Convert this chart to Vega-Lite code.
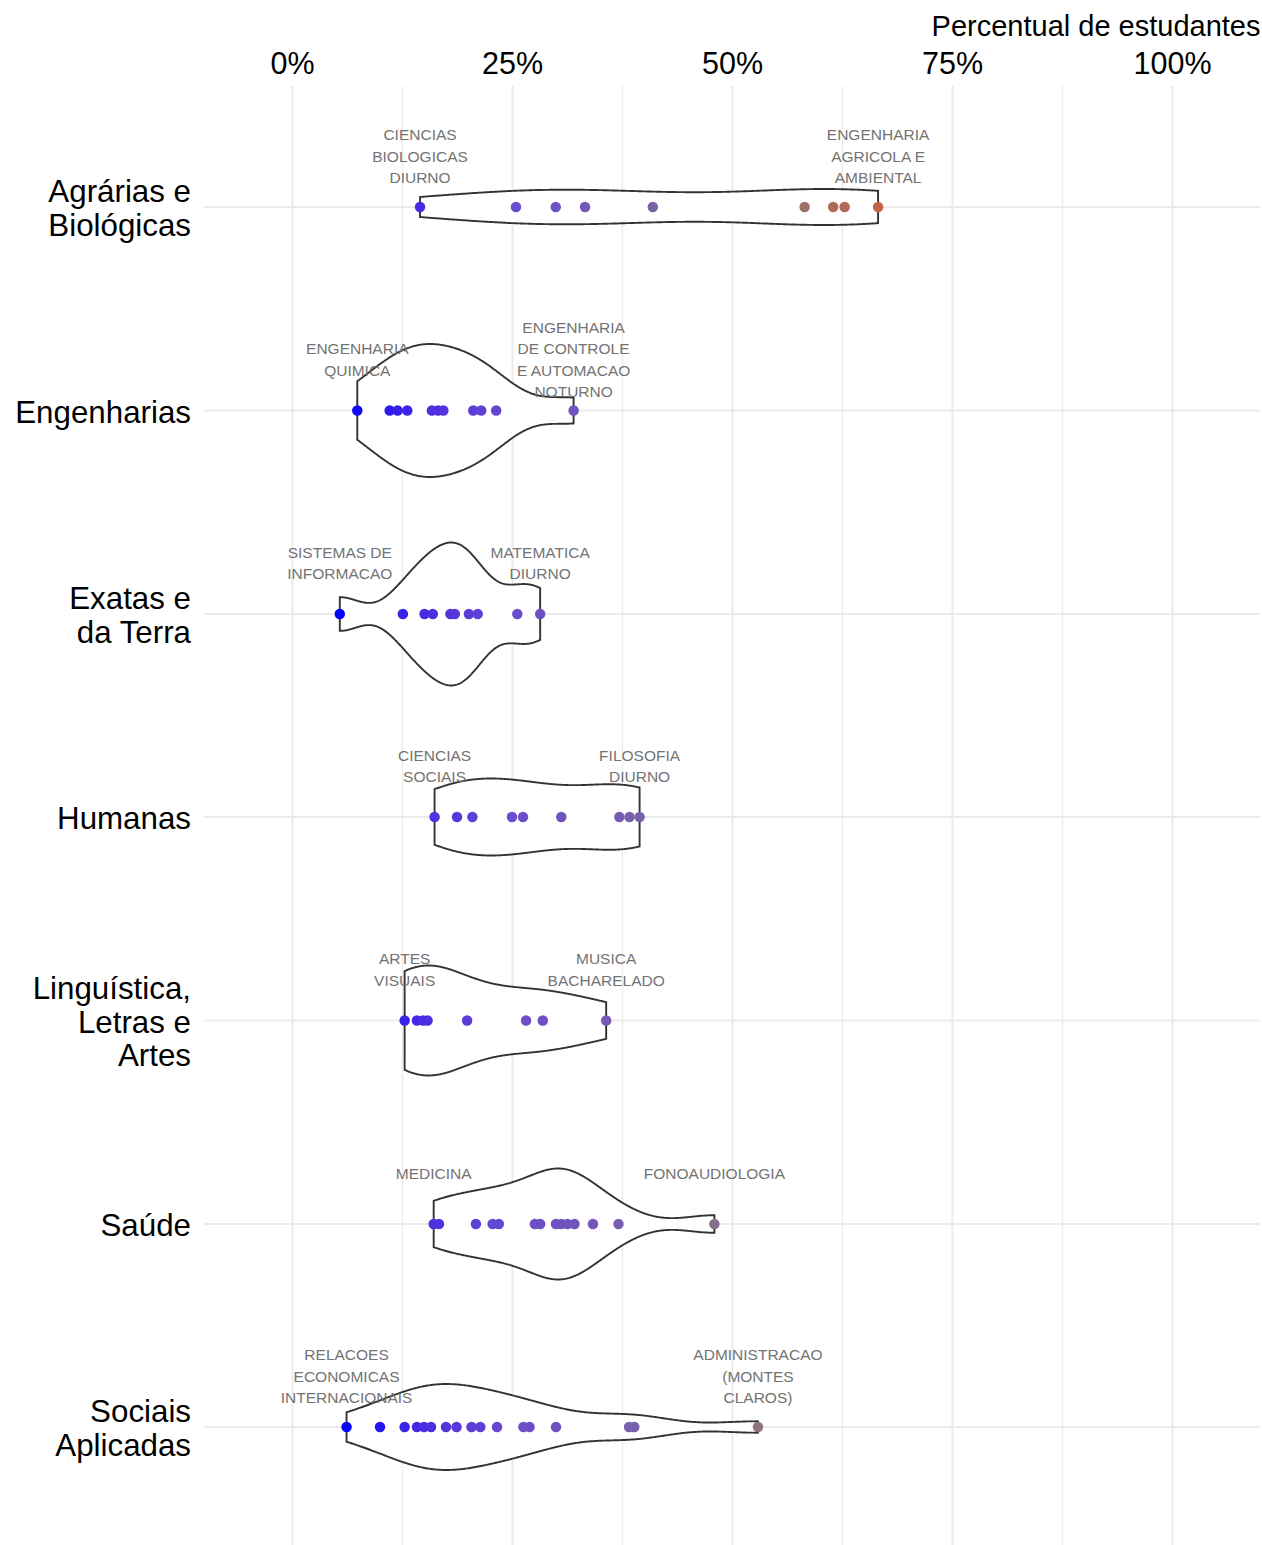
{
  "$schema": "https://vega.github.io/schema/vega-lite/v6.json",
  "background": "white",
  "padding": {"left": 15, "right": 0, "top": 12.5, "bottom": 0},
  "config": {"view": {"stroke": null}, "font": "Liberation Sans", "concat": {"spacing": 0}},
  "data": {"values": [
    {"area": "Agrárias e Biológicas", "pct": 14.55, "label": ["CIENCIAS", "BIOLOGICAS", "DIURNO"]},
    {"area": "Agrárias e Biológicas", "pct": 25.45},
    {"area": "Agrárias e Biológicas", "pct": 29.97},
    {"area": "Agrárias e Biológicas", "pct": 33.3},
    {"area": "Agrárias e Biológicas", "pct": 41.0},
    {"area": "Agrárias e Biológicas", "pct": 58.25},
    {"area": "Agrárias e Biológicas", "pct": 61.5},
    {"area": "Agrárias e Biológicas", "pct": 62.8},
    {"area": "Agrárias e Biológicas", "pct": 66.6, "label": ["ENGENHARIA", "AGRICOLA E", "AMBIENTAL"]},
    {"area": "Engenharias", "pct": 7.42, "label": ["ENGENHARIA", "QUIMICA"]},
    {"area": "Engenharias", "pct": 11.1},
    {"area": "Engenharias", "pct": 12.0},
    {"area": "Engenharias", "pct": 13.1},
    {"area": "Engenharias", "pct": 15.9},
    {"area": "Engenharias", "pct": 16.6},
    {"area": "Engenharias", "pct": 17.2},
    {"area": "Engenharias", "pct": 20.6},
    {"area": "Engenharias", "pct": 21.5},
    {"area": "Engenharias", "pct": 23.2},
    {"area": "Engenharias", "pct": 32.0, "label": ["ENGENHARIA", "DE CONTROLE", "E AUTOMACAO", "NOTURNO"]},
    {"area": "Exatas e da Terra", "pct": 5.43, "label": ["SISTEMAS DE", "INFORMACAO"]},
    {"area": "Exatas e da Terra", "pct": 12.6},
    {"area": "Exatas e da Terra", "pct": 15.06},
    {"area": "Exatas e da Terra", "pct": 16.0},
    {"area": "Exatas e da Terra", "pct": 18.0},
    {"area": "Exatas e da Terra", "pct": 18.5},
    {"area": "Exatas e da Terra", "pct": 20.1},
    {"area": "Exatas e da Terra", "pct": 21.1},
    {"area": "Exatas e da Terra", "pct": 25.6},
    {"area": "Exatas e da Terra", "pct": 28.2, "label": ["MATEMATICA", "DIURNO"]},
    {"area": "Humanas", "pct": 16.2, "label": ["CIENCIAS", "SOCIAIS"]},
    {"area": "Humanas", "pct": 18.75},
    {"area": "Humanas", "pct": 20.5},
    {"area": "Humanas", "pct": 25.0},
    {"area": "Humanas", "pct": 26.25},
    {"area": "Humanas", "pct": 30.6},
    {"area": "Humanas", "pct": 37.2},
    {"area": "Humanas", "pct": 38.35},
    {"area": "Humanas", "pct": 39.5, "label": ["FILOSOFIA", "DIURNO"]},
    {"area": "Linguística, Letras e Artes", "pct": 12.8, "label": ["ARTES", "VISUAIS"]},
    {"area": "Linguística, Letras e Artes", "pct": 14.2},
    {"area": "Linguística, Letras e Artes", "pct": 14.9},
    {"area": "Linguística, Letras e Artes", "pct": 15.4},
    {"area": "Linguística, Letras e Artes", "pct": 19.9},
    {"area": "Linguística, Letras e Artes", "pct": 26.6},
    {"area": "Linguística, Letras e Artes", "pct": 28.5},
    {"area": "Linguística, Letras e Artes", "pct": 35.7, "label": ["MUSICA", "BACHARELADO"]},
    {"area": "Saúde", "pct": 16.1, "label": ["MEDICINA"]},
    {"area": "Saúde", "pct": 16.7},
    {"area": "Saúde", "pct": 20.9},
    {"area": "Saúde", "pct": 22.8},
    {"area": "Saúde", "pct": 23.5},
    {"area": "Saúde", "pct": 27.6},
    {"area": "Saúde", "pct": 28.2},
    {"area": "Saúde", "pct": 30.0},
    {"area": "Saúde", "pct": 30.6},
    {"area": "Saúde", "pct": 31.3},
    {"area": "Saúde", "pct": 32.1},
    {"area": "Saúde", "pct": 34.2},
    {"area": "Saúde", "pct": 37.1},
    {"area": "Saúde", "pct": 48.0, "label": ["FONOAUDIOLOGIA"]},
    {"area": "Sociais Aplicadas", "pct": 6.2, "label": ["RELACOES", "ECONOMICAS", "INTERNACIONAIS"]},
    {"area": "Sociais Aplicadas", "pct": 10.0},
    {"area": "Sociais Aplicadas", "pct": 12.8},
    {"area": "Sociais Aplicadas", "pct": 14.2},
    {"area": "Sociais Aplicadas", "pct": 15.0},
    {"area": "Sociais Aplicadas", "pct": 15.8},
    {"area": "Sociais Aplicadas", "pct": 17.5},
    {"area": "Sociais Aplicadas", "pct": 18.7},
    {"area": "Sociais Aplicadas", "pct": 20.4},
    {"area": "Sociais Aplicadas", "pct": 21.4},
    {"area": "Sociais Aplicadas", "pct": 23.3},
    {"area": "Sociais Aplicadas", "pct": 26.3},
    {"area": "Sociais Aplicadas", "pct": 27.0},
    {"area": "Sociais Aplicadas", "pct": 30.0},
    {"area": "Sociais Aplicadas", "pct": 38.3},
    {"area": "Sociais Aplicadas", "pct": 38.9},
    {"area": "Sociais Aplicadas", "pct": 52.95, "label": ["ADMINISTRACAO", "(MONTES", "CLAROS)"]}
  ]},
  "vconcat": [
    {
      "transform": [{"filter": "datum.area == 'Agrárias e Biológicas'"}],
      "width": 1056, "height": 203,
      "layer": [
        {"transform": [{"aggregate": [{"op": "count", "as": "n"}]}],
         "mark": {"type": "rule", "color": "#EBEBEB", "strokeWidth": 2},
         "encoding": {
           "x": {"datum": -10, "type": "quantitative", "scale": {"domain": [-10, 110], "nice": false, "zero": false},
             "axis": {"orient": "top", "title": "Percentual de estudantes", "titleFontSize": 29, "titleFontWeight": "normal", "titleColor": "#000000", "titleFont": "Liberation Sans", "titleAnchor": "end", "titlePadding": 8,
               "values": [0, 12.5, 25, 37.5, 50, 62.5, 75, 87.5, 100], "labelExpr": "datum.value % 25 == 0 ? datum.value + '%' : ''",
               "labelFontSize": 30.5, "labelFont": "Liberation Sans", "labelColor": "#000000", "labelPadding": 6, "labelFlush": false, "labelOverlap": false,
               "ticks": true, "tickSize": 20, "tickColor": "#EBEBEB", "tickWidth": {"condition": {"test": "datum.value % 25 == 0", "value": 2}, "value": 1.3},
               "domain": false, "grid": true, "gridColor": "#EBEBEB", "gridWidth": {"condition": {"test": "datum.value % 25 == 0", "value": 2}, "value": 1.3}}},
           "x2": {"datum": 110}}},
        {"transform": [{"density": "pct", "bandwidth": 11.05, "steps": 300}, {"stack": "density", "groupby": ["value"], "offset": "center", "as": ["v0", "v1"]}],
         "mark": {"type": "area", "orient": "vertical", "fill": "white", "stroke": "#333333", "strokeWidth": 1.9},
         "encoding": {"x": {"field": "value", "type": "quantitative"}, "y": {"field": "v0", "type": "quantitative", "scale": {"zero": false, "nice": false, "padding": 83.5}, "axis": null}, "y2": {"field": "v1"}}},
        {"mark": {"type": "circle", "size": 110, "opacity": 1},
         "encoding": {"x": {"field": "pct", "type": "quantitative"}, "color": {"field": "pct", "type": "quantitative", "legend": null, "scale": {"domain": [5.4, 15, 25, 35, 45, 55, 66.6], "range": ["#0000ff", "#4c2ce2", "#6a4ccc", "#7558b6", "#7d6e98", "#917670", "#c4614a"], "interpolate": "rgb"}}}},
        {"transform": [{"filter": "isValid(datum.label)"}],
         "mark": {"type": "text", "dy": -72, "fontSize": 15.5, "font": "Liberation Sans", "color": "#737373", "lineHeight": 21.5, "align": "center", "baseline": "middle"},
         "encoding": {"x": {"field": "pct", "type": "quantitative"}, "text": {"field": "label", "type": "nominal"}}},
        {"transform": [{"aggregate": [{"op": "count", "as": "n"}]}],
         "mark": {"type": "text", "text": ["Agrárias e", "Biológicas"], "dx": -13, "dy": -14, "fontSize": 31.3, "font": "Liberation Sans", "color": "#000000", "lineHeight": 33.5, "align": "right", "baseline": "middle"},
         "encoding": {"x": {"datum": -10, "type": "quantitative"}}}
      ]
    },
    {
      "transform": [{"filter": "datum.area == 'Engenharias'"}],
      "width": 1056, "height": 204,
      "layer": [
        {"transform": [{"aggregate": [{"op": "count", "as": "n"}]}],
         "mark": {"type": "rule", "color": "#EBEBEB", "strokeWidth": 2},
         "encoding": {
           "x": {"datum": -10, "type": "quantitative", "scale": {"domain": [-10, 110], "nice": false, "zero": false},
             "axis": {"orient": "top", "title": null, "labels": false, "ticks": false, "domain": false, "values": [0, 12.5, 25, 37.5, 50, 62.5, 75, 87.5, 100],
               "grid": true, "gridColor": "#EBEBEB", "gridWidth": {"condition": {"test": "datum.value % 25 == 0", "value": 2}, "value": 1.3}}},
           "x2": {"datum": 110}}},
        {"transform": [{"density": "pct", "bandwidth": 3.53, "steps": 300}, {"stack": "density", "groupby": ["value"], "offset": "center", "as": ["v0", "v1"]}],
         "mark": {"type": "area", "orient": "vertical", "fill": "white", "stroke": "#333333", "strokeWidth": 1.9},
         "encoding": {"x": {"field": "value", "type": "quantitative"}, "y": {"field": "v0", "type": "quantitative", "scale": {"zero": false, "nice": false, "padding": 35.5}, "axis": null}, "y2": {"field": "v1"}}},
        {"mark": {"type": "circle", "size": 110, "opacity": 1},
         "encoding": {"x": {"field": "pct", "type": "quantitative"}, "color": {"field": "pct", "type": "quantitative", "legend": null, "scale": {"domain": [5.4, 15, 25, 35, 45, 55, 66.6], "range": ["#0000ff", "#4c2ce2", "#6a4ccc", "#7558b6", "#7d6e98", "#917670", "#c4614a"], "interpolate": "rgb"}}}},
        {"transform": [{"filter": "isValid(datum.label) && length(datum.label) == 2"}],
         "mark": {"type": "text", "dy": -61.25, "fontSize": 15.5, "font": "Liberation Sans", "color": "#737373", "lineHeight": 21.5, "align": "center", "baseline": "middle"},
         "encoding": {"x": {"field": "pct", "type": "quantitative"}, "text": {"field": "label", "type": "nominal"}}},
        {"transform": [{"filter": "isValid(datum.label) && length(datum.label) == 4"}],
         "mark": {"type": "text", "dy": -82.75, "fontSize": 15.5, "font": "Liberation Sans", "color": "#737373", "lineHeight": 21.5, "align": "center", "baseline": "middle"},
         "encoding": {"x": {"field": "pct", "type": "quantitative"}, "text": {"field": "label", "type": "nominal"}}},
        {"transform": [{"aggregate": [{"op": "count", "as": "n"}]}],
         "mark": {"type": "text", "text": ["Engenharias"], "dx": -13, "dy": 3, "fontSize": 31.3, "font": "Liberation Sans", "color": "#000000", "lineHeight": 33.5, "align": "right", "baseline": "middle"},
         "encoding": {"x": {"datum": -10, "type": "quantitative"}}}
      ]
    },
    {
      "transform": [{"filter": "datum.area == 'Exatas e da Terra'"}],
      "width": 1056, "height": 203,
      "layer": [
        {"transform": [{"aggregate": [{"op": "count", "as": "n"}]}],
         "mark": {"type": "rule", "color": "#EBEBEB", "strokeWidth": 2},
         "encoding": {
           "x": {"datum": -10, "type": "quantitative", "scale": {"domain": [-10, 110], "nice": false, "zero": false},
             "axis": {"orient": "top", "title": null, "labels": false, "ticks": false, "domain": false, "values": [0, 12.5, 25, 37.5, 50, 62.5, 75, 87.5, 100],
               "grid": true, "gridColor": "#EBEBEB", "gridWidth": {"condition": {"test": "datum.value % 25 == 0", "value": 2}, "value": 1.3}}},
           "x2": {"datum": 110}}},
        {"transform": [{"density": "pct", "bandwidth": 2.35, "steps": 300}, {"stack": "density", "groupby": ["value"], "offset": "center", "as": ["v0", "v1"]}],
         "mark": {"type": "area", "orient": "vertical", "fill": "white", "stroke": "#333333", "strokeWidth": 1.9},
         "encoding": {"x": {"field": "value", "type": "quantitative"}, "y": {"field": "v0", "type": "quantitative", "scale": {"zero": false, "nice": false, "padding": 30}, "axis": null}, "y2": {"field": "v1"}}},
        {"mark": {"type": "circle", "size": 110, "opacity": 1},
         "encoding": {"x": {"field": "pct", "type": "quantitative"}, "color": {"field": "pct", "type": "quantitative", "legend": null, "scale": {"domain": [5.4, 15, 25, 35, 45, 55, 66.6], "range": ["#0000ff", "#4c2ce2", "#6a4ccc", "#7558b6", "#7d6e98", "#917670", "#c4614a"], "interpolate": "rgb"}}}},
        {"transform": [{"filter": "isValid(datum.label)"}],
         "mark": {"type": "text", "dy": -61.25, "fontSize": 15.5, "font": "Liberation Sans", "color": "#737373", "lineHeight": 21.5, "align": "center", "baseline": "middle"},
         "encoding": {"x": {"field": "pct", "type": "quantitative"}, "text": {"field": "label", "type": "nominal"}}},
        {"transform": [{"aggregate": [{"op": "count", "as": "n"}]}],
         "mark": {"type": "text", "text": ["Exatas e", "da Terra"], "dx": -13, "dy": -14, "fontSize": 31.3, "font": "Liberation Sans", "color": "#000000", "lineHeight": 33.5, "align": "right", "baseline": "middle"},
         "encoding": {"x": {"datum": -10, "type": "quantitative"}}}
      ]
    },
    {
      "transform": [{"filter": "datum.area == 'Humanas'"}],
      "width": 1056, "height": 203,
      "layer": [
        {"transform": [{"aggregate": [{"op": "count", "as": "n"}]}],
         "mark": {"type": "rule", "color": "#EBEBEB", "strokeWidth": 2},
         "encoding": {
           "x": {"datum": -10, "type": "quantitative", "scale": {"domain": [-10, 110], "nice": false, "zero": false},
             "axis": {"orient": "top", "title": null, "labels": false, "ticks": false, "domain": false, "values": [0, 12.5, 25, 37.5, 50, 62.5, 75, 87.5, 100],
               "grid": true, "gridColor": "#EBEBEB", "gridWidth": {"condition": {"test": "datum.value % 25 == 0", "value": 2}, "value": 1.3}}},
           "x2": {"datum": 110}}},
        {"transform": [{"density": "pct", "bandwidth": 5.12, "steps": 300}, {"stack": "density", "groupby": ["value"], "offset": "center", "as": ["v0", "v1"]}],
         "mark": {"type": "area", "orient": "vertical", "fill": "white", "stroke": "#333333", "strokeWidth": 1.9},
         "encoding": {"x": {"field": "value", "type": "quantitative"}, "y": {"field": "v0", "type": "quantitative", "scale": {"zero": false, "nice": false, "padding": 63}, "axis": null}, "y2": {"field": "v1"}}},
        {"mark": {"type": "circle", "size": 110, "opacity": 1},
         "encoding": {"x": {"field": "pct", "type": "quantitative"}, "color": {"field": "pct", "type": "quantitative", "legend": null, "scale": {"domain": [5.4, 15, 25, 35, 45, 55, 66.6], "range": ["#0000ff", "#4c2ce2", "#6a4ccc", "#7558b6", "#7d6e98", "#917670", "#c4614a"], "interpolate": "rgb"}}}},
        {"transform": [{"filter": "isValid(datum.label)"}],
         "mark": {"type": "text", "dy": -61.25, "fontSize": 15.5, "font": "Liberation Sans", "color": "#737373", "lineHeight": 21.5, "align": "center", "baseline": "middle"},
         "encoding": {"x": {"field": "pct", "type": "quantitative"}, "text": {"field": "label", "type": "nominal"}}},
        {"transform": [{"aggregate": [{"op": "count", "as": "n"}]}],
         "mark": {"type": "text", "text": ["Humanas"], "dx": -13, "dy": 3, "fontSize": 31.3, "font": "Liberation Sans", "color": "#000000", "lineHeight": 33.5, "align": "right", "baseline": "middle"},
         "encoding": {"x": {"datum": -10, "type": "quantitative"}}}
      ]
    },
    {
      "transform": [{"filter": "datum.area == 'Linguística, Letras e Artes'"}],
      "width": 1056, "height": 204,
      "layer": [
        {"transform": [{"aggregate": [{"op": "count", "as": "n"}]}],
         "mark": {"type": "rule", "color": "#EBEBEB", "strokeWidth": 2},
         "encoding": {
           "x": {"datum": -10, "type": "quantitative", "scale": {"domain": [-10, 110], "nice": false, "zero": false},
             "axis": {"orient": "top", "title": null, "labels": false, "ticks": false, "domain": false, "values": [0, 12.5, 25, 37.5, 50, 62.5, 75, 87.5, 100],
               "grid": true, "gridColor": "#EBEBEB", "gridWidth": {"condition": {"test": "datum.value % 25 == 0", "value": 2}, "value": 1.3}}},
           "x2": {"datum": 110}}},
        {"transform": [{"density": "pct", "bandwidth": 4.95, "steps": 300}, {"stack": "density", "groupby": ["value"], "offset": "center", "as": ["v0", "v1"]}],
         "mark": {"type": "area", "orient": "vertical", "fill": "white", "stroke": "#333333", "strokeWidth": 1.9},
         "encoding": {"x": {"field": "value", "type": "quantitative"}, "y": {"field": "v0", "type": "quantitative", "scale": {"zero": false, "nice": false, "padding": 47}, "axis": null}, "y2": {"field": "v1"}}},
        {"mark": {"type": "circle", "size": 110, "opacity": 1},
         "encoding": {"x": {"field": "pct", "type": "quantitative"}, "color": {"field": "pct", "type": "quantitative", "legend": null, "scale": {"domain": [5.4, 15, 25, 35, 45, 55, 66.6], "range": ["#0000ff", "#4c2ce2", "#6a4ccc", "#7558b6", "#7d6e98", "#917670", "#c4614a"], "interpolate": "rgb"}}}},
        {"transform": [{"filter": "isValid(datum.label)"}],
         "mark": {"type": "text", "dy": -61.25, "fontSize": 15.5, "font": "Liberation Sans", "color": "#737373", "lineHeight": 21.5, "align": "center", "baseline": "middle"},
         "encoding": {"x": {"field": "pct", "type": "quantitative"}, "text": {"field": "label", "type": "nominal"}}},
        {"transform": [{"aggregate": [{"op": "count", "as": "n"}]}],
         "mark": {"type": "text", "text": ["Linguística,", "Letras e", "Artes"], "dx": -13, "dy": -30.5, "fontSize": 31.3, "font": "Liberation Sans", "color": "#000000", "lineHeight": 33.5, "align": "right", "baseline": "middle"},
         "encoding": {"x": {"datum": -10, "type": "quantitative"}}}
      ]
    },
    {
      "transform": [{"filter": "datum.area == 'Saúde'"}],
      "width": 1056, "height": 203,
      "layer": [
        {"transform": [{"aggregate": [{"op": "count", "as": "n"}]}],
         "mark": {"type": "rule", "color": "#EBEBEB", "strokeWidth": 2},
         "encoding": {
           "x": {"datum": -10, "type": "quantitative", "scale": {"domain": [-10, 110], "nice": false, "zero": false},
             "axis": {"orient": "top", "title": null, "labels": false, "ticks": false, "domain": false, "values": [0, 12.5, 25, 37.5, 50, 62.5, 75, 87.5, 100],
               "grid": true, "gridColor": "#EBEBEB", "gridWidth": {"condition": {"test": "datum.value % 25 == 0", "value": 2}, "value": 1.3}}},
           "x2": {"datum": 110}}},
        {"transform": [{"density": "pct", "bandwidth": 3.54, "steps": 300}, {"stack": "density", "groupby": ["value"], "offset": "center", "as": ["v0", "v1"]}],
         "mark": {"type": "area", "orient": "vertical", "fill": "white", "stroke": "#333333", "strokeWidth": 1.9},
         "encoding": {"x": {"field": "value", "type": "quantitative"}, "y": {"field": "v0", "type": "quantitative", "scale": {"zero": false, "nice": false, "padding": 46}, "axis": null}, "y2": {"field": "v1"}}},
        {"mark": {"type": "circle", "size": 110, "opacity": 1},
         "encoding": {"x": {"field": "pct", "type": "quantitative"}, "color": {"field": "pct", "type": "quantitative", "legend": null, "scale": {"domain": [5.4, 15, 25, 35, 45, 55, 66.6], "range": ["#0000ff", "#4c2ce2", "#6a4ccc", "#7558b6", "#7d6e98", "#917670", "#c4614a"], "interpolate": "rgb"}}}},
        {"transform": [{"filter": "isValid(datum.label)"}],
         "mark": {"type": "text", "dy": -50.5, "fontSize": 15.5, "font": "Liberation Sans", "color": "#737373", "lineHeight": 21.5, "align": "center", "baseline": "middle"},
         "encoding": {"x": {"field": "pct", "type": "quantitative"}, "text": {"field": "label", "type": "nominal"}}},
        {"transform": [{"aggregate": [{"op": "count", "as": "n"}]}],
         "mark": {"type": "text", "text": ["Saúde"], "dx": -13, "dy": 3, "fontSize": 31.3, "font": "Liberation Sans", "color": "#000000", "lineHeight": 33.5, "align": "right", "baseline": "middle"},
         "encoding": {"x": {"datum": -10, "type": "quantitative"}}}
      ]
    },
    {
      "transform": [{"filter": "datum.area == 'Sociais Aplicadas'"}],
      "width": 1056, "height": 203,
      "layer": [
        {"transform": [{"aggregate": [{"op": "count", "as": "n"}]}],
         "mark": {"type": "rule", "color": "#EBEBEB", "strokeWidth": 2},
         "encoding": {
           "x": {"datum": -10, "type": "quantitative", "scale": {"domain": [-10, 110], "nice": false, "zero": false},
             "axis": {"orient": "bottom", "title": null, "labels": false, "ticks": true, "tickSize": 16.5, "tickColor": "#EBEBEB", "tickWidth": {"condition": {"test": "datum.value % 25 == 0", "value": 2}, "value": 1.3},
               "domain": false, "values": [0, 12.5, 25, 37.5, 50, 62.5, 75, 87.5, 100],
               "grid": true, "gridColor": "#EBEBEB", "gridWidth": {"condition": {"test": "datum.value % 25 == 0", "value": 2}, "value": 1.3}}},
           "x2": {"datum": 110}}},
        {"transform": [{"density": "pct", "bandwidth": 4.58, "steps": 300}, {"stack": "density", "groupby": ["value"], "offset": "center", "as": ["v0", "v1"]}],
         "mark": {"type": "area", "orient": "vertical", "fill": "white", "stroke": "#333333", "strokeWidth": 1.9},
         "encoding": {"x": {"field": "value", "type": "quantitative"}, "y": {"field": "v0", "type": "quantitative", "scale": {"zero": false, "nice": false, "padding": 58.5}, "axis": null}, "y2": {"field": "v1"}}},
        {"mark": {"type": "circle", "size": 110, "opacity": 1},
         "encoding": {"x": {"field": "pct", "type": "quantitative"}, "color": {"field": "pct", "type": "quantitative", "legend": null, "scale": {"domain": [5.4, 15, 25, 35, 45, 55, 66.6], "range": ["#0000ff", "#4c2ce2", "#6a4ccc", "#7558b6", "#7d6e98", "#917670", "#c4614a"], "interpolate": "rgb"}}}},
        {"transform": [{"filter": "isValid(datum.label)"}],
         "mark": {"type": "text", "dy": -72, "fontSize": 15.5, "font": "Liberation Sans", "color": "#737373", "lineHeight": 21.5, "align": "center", "baseline": "middle"},
         "encoding": {"x": {"field": "pct", "type": "quantitative"}, "text": {"field": "label", "type": "nominal"}}},
        {"transform": [{"aggregate": [{"op": "count", "as": "n"}]}],
         "mark": {"type": "text", "text": ["Sociais", "Aplicadas"], "dx": -13, "dy": -14, "fontSize": 31.3, "font": "Liberation Sans", "color": "#000000", "lineHeight": 33.5, "align": "right", "baseline": "middle"},
         "encoding": {"x": {"datum": -10, "type": "quantitative"}}}
      ]
    }
  ]
}
